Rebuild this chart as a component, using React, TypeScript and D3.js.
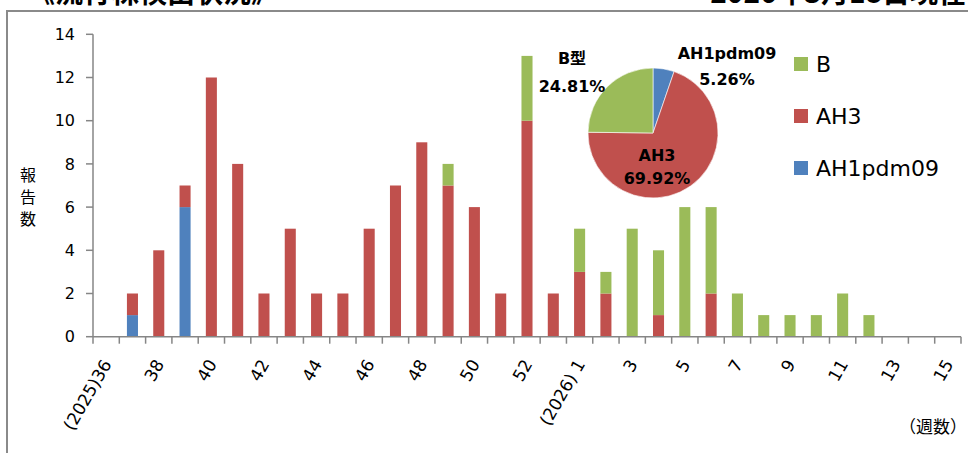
import React from "react";
import * as d3 from "d3";

const weeks = ["36","37","38","39","40","41","42","43","44","45","46","47","48","49","50","51","52","53","1","2","3","4","5","6","7","8","9","10","11","12","13","14","15"];
const tickLabels = ["(2025)36","","38","","40","","42","","44","","46","","48","","50","","52","","(2026) 1","","3","","5","","7","","9","","11","","13","","15"];
const ah1pdm09 = [0,1,0,6,0,0,0,0,0,0,0,0,0,0,0,0,0,0,0,0,0,0,0,0,0,0,0,0,0,0,0,0,0];
const ah3 =      [0,1,4,1,12,8,2,5,2,2,5,7,9,7,6,2,10,2,3,2,0,1,0,2,0,0,0,0,0,0,0,0,0];
const typeB =    [0,0,0,0,0,0,0,0,0,0,0,0,0,1,0,0,3,0,2,1,5,3,6,4,2,1,1,1,2,1,0,0,0];
const yTicks = [0,2,4,6,8,10,12,14];
const seriesNames = ["AH1pdm09","AH3","B"];
const pieNames = ["AH1pdm09","AH3","B型"];

const COLORS: Record<string,string> = { AH1pdm09: "#4F81BD", AH3: "#C0504D", B: "#9BBB59" };
const AXIS = "#868686";
const FONT = "'DejaVu Sans', sans-serif";
const CJK = "'Noto Sans CJK JP', sans-serif";

export default function App() {
  const W = 968, H = 453;
  const x0 = 93, x1 = 961, yBase = 336.7, yTop = 34.3;
  const keys = weeks.map((w, i) => i + ":" + w);
  const x = d3.scaleBand<string>().domain(keys).range([x0, x1]).paddingInner(0.58).paddingOuter(0.29);
  const y = d3.scaleLinear().domain([0, 14]).range([yBase, yTop]);
  const step = (x1 - x0) / weeks.length;

  const rows = weeks.map((w, i) => ({ key: keys[i], AH1pdm09: ah1pdm09[i], AH3: ah3[i], B: typeB[i] }));
  const stack = d3.stack<any>().keys(seriesNames)(rows);

  const totals = [d3.sum(ah1pdm09), d3.sum(ah3), d3.sum(typeB)];
  const grand = d3.sum(totals);
  const pie = d3.pie<number>().sort(null).startAngle(0).endAngle(2 * Math.PI)(totals);
  const arc = d3.arc<d3.PieArcDatum<number>>().innerRadius(0).outerRadius(65);
  const pcx = 653, pcy = 133;
  const pct = (v: number) => ((v / grand) * 100).toFixed(2) + "%";
  const pieLabelPos = [
    { x: 727, y1: 59, y2: 85 },
    { x: 657, y1: 161, y2: 184 },
    { x: 572, y1: 64, y2: 92 },
  ];

  const legendY = [64, 116, 168];
  const legendOrder = ["B", "AH3", "AH1pdm09"];

  return (
    <div style={{ position: "absolute", left: 0, top: 0 }}>
      <svg width={W} height={H} style={{ display: "block", background: "#fff" }}>
        <path d={`M7,${H + 5} L7,11 L${W + 5},11`} fill="none" stroke="#8a8a8a" strokeWidth={2} />
        <text x={27} y={3} fontFamily={CJK} fontSize={28} fontWeight="bold" fill="#000">《流行株検出状況》</text>
        <text x={966} y={3} textAnchor="end" fontFamily={CJK} fontSize={28} fontWeight="bold" fill="#000">2026年3月18日現在</text>

        {stack.map((s) => (
          <g key={s.key} fill={COLORS[s.key]}>
            {s.map((d, i) => {
              const h = y(d[0]) - y(d[1]);
              if (h <= 0) return null;
              return <rect key={i} x={x(keys[i])} y={y(d[1])} width={x.bandwidth()} height={h} />;
            })}
          </g>
        ))}

        <line x1={x0} x2={x0} y1={yTop} y2={yBase} stroke={AXIS} strokeWidth={1.5} />
        {yTicks.map((t) => (
          <g key={t}>
            <line x1={x0 - 7} x2={x0} y1={y(t)} y2={y(t)} stroke={AXIS} strokeWidth={1.5} />
            <text x={75} y={y(t)} dy="0.36em" textAnchor="end" fontFamily={FONT} fontSize={16} fill="#000">{t}</text>
          </g>
        ))}
        {["報", "告", "数"].map((c, i) => (
          <text key={c} x={28} y={175 + i * 22} dy="0.36em" textAnchor="middle" fontFamily={CJK} fontSize={16} fill="#000">{c}</text>
        ))}

        <line x1={x0} x2={x1} y1={yBase} y2={yBase} stroke={AXIS} strokeWidth={1.5} />
        {d3.range(weeks.length + 1).map((i) => (
          <line key={i} x1={x0 + i * step} x2={x0 + i * step} y1={yBase} y2={yBase + 7} stroke={AXIS} strokeWidth={1.5} />
        ))}
        {tickLabels.map((lab, i) =>
          lab ? (
            <text key={i} transform={`translate(${(x(keys[i]) as number) + x.bandwidth() / 2 + 6},${364}) rotate(-60)`} textAnchor="end" fontFamily={FONT} fontSize={17} fill="#000">{lab}</text>
          ) : null
        )}
        <text x={967} y={433} textAnchor="end" fontFamily={CJK} fontSize={17} fill="#000">（週数）</text>

        <g transform={`translate(${pcx},${pcy})`}>
          {pie.map((p, i) => (
            <path key={i} d={arc(p) as string} fill={COLORS[seriesNames[i]]} stroke="#fff" strokeWidth={0.6} />
          ))}
        </g>
        {pie.map((p, i) => (
          <g key={i} fontFamily={`'DejaVu Sans', 'Noto Sans CJK JP', sans-serif`} fontWeight="bold" fontSize={16} fill="#000" textAnchor="middle">
            <text x={pieLabelPos[i].x} y={pieLabelPos[i].y1}>{pieNames[i]}</text>
            <text x={pieLabelPos[i].x} y={pieLabelPos[i].y2}>{pct(p.value)}</text>
          </g>
        ))}

        {legendOrder.map((k, i) => (
          <g key={k}>
            <rect x={794} y={legendY[i] - 7} width={14} height={14} fill={COLORS[k]} />
            <text x={816} y={legendY[i]} dy="0.36em" fontFamily={FONT} fontSize={22} fill="#000">{k}</text>
          </g>
        ))}
      </svg>
    </div>
  );
}
